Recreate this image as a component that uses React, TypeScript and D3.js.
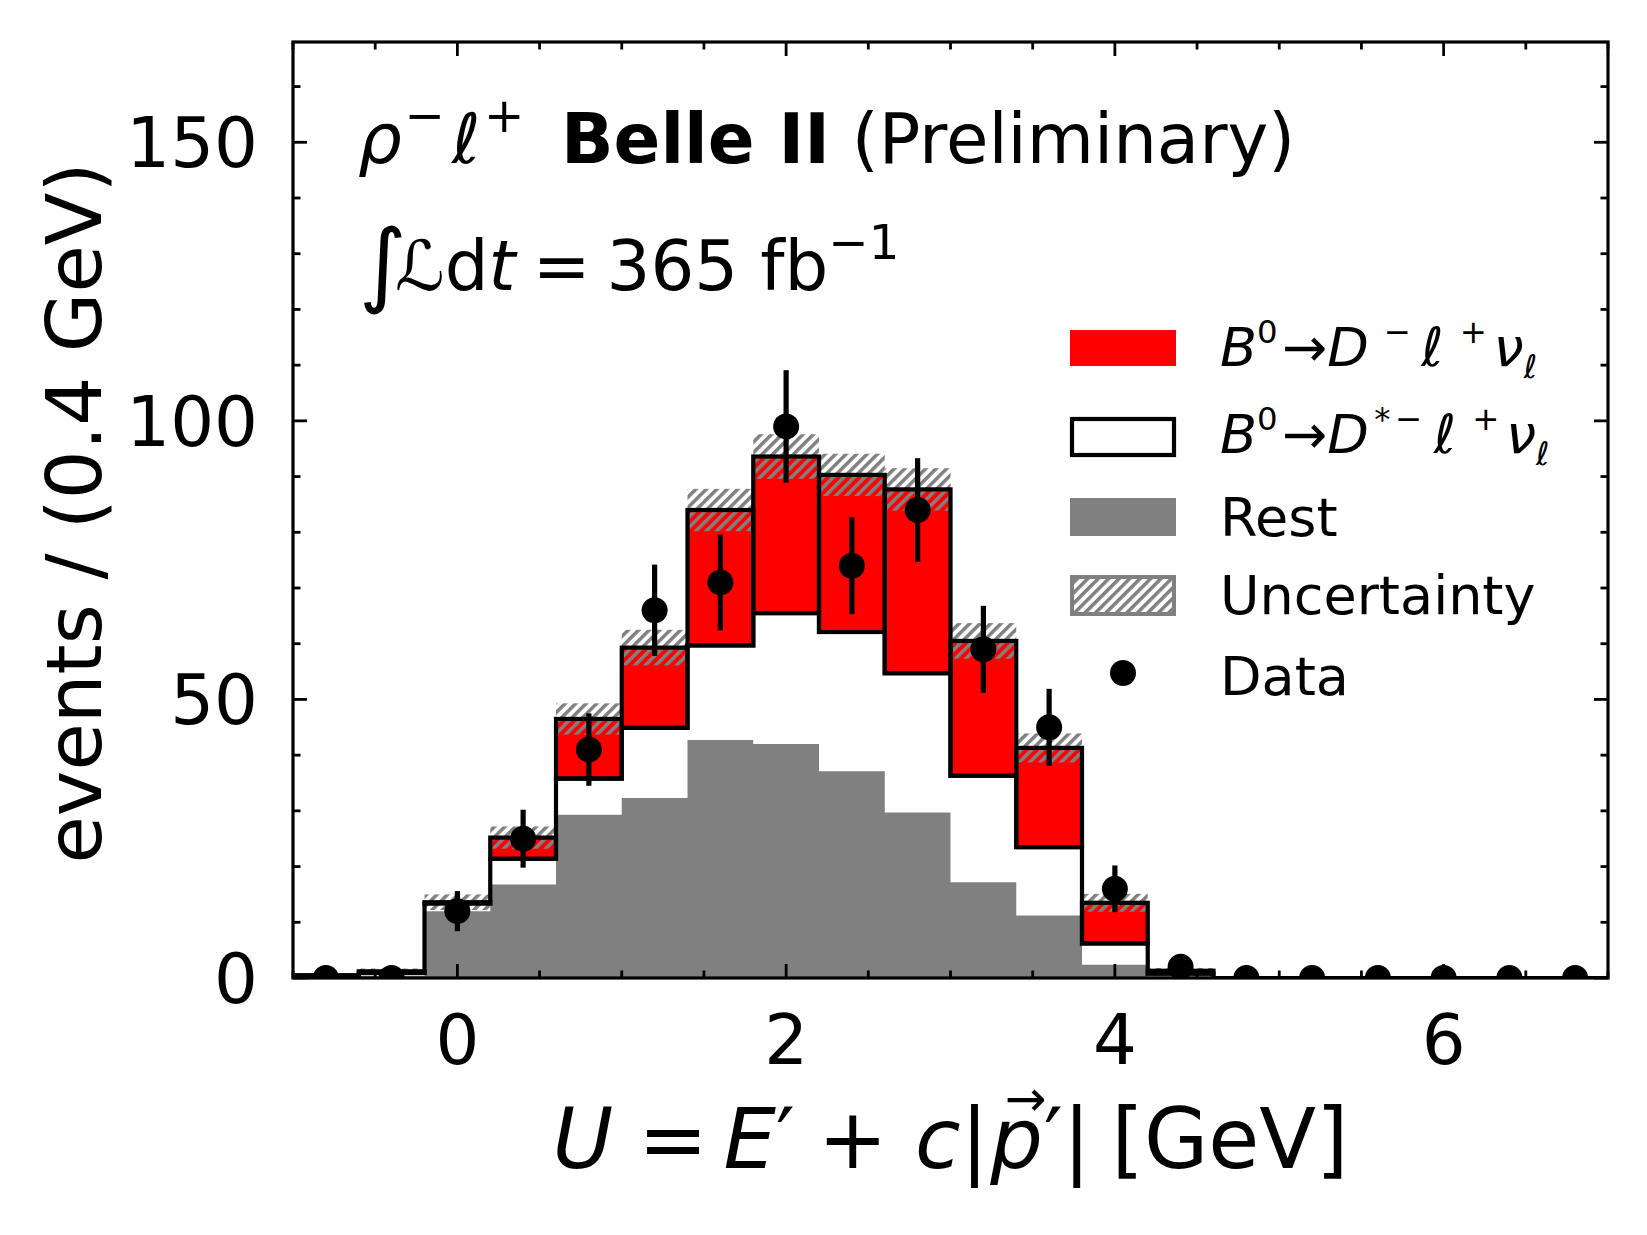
import * as d3 from 'd3';

// U distribution, rho- l+ channel, bins of 0.4 GeV
const binCenters = [-0.8, -0.4, 0.0, 0.4, 0.8, 1.2, 1.6, 2.0, 2.4, 2.8, 3.2, 3.6, 4.0, 4.4, 4.8, 5.2, 5.6, 6.0, 6.4, 6.8];
const binWidth = 0.4;

const restYield = [0.2, 0.4, 12.0, 16.8, 29.3, 32.3, 42.7, 42.0, 37.1, 29.7, 17.2, 11.2, 2.4, 0.3, 0, 0, 0, 0, 0, 0];
const dStarYield = [0.2, 0.5, 1.4, 4.6, 6.5, 12.6, 17.0, 23.5, 25.0, 25.0, 19.1, 12.3, 3.8, 0.5, 0, 0, 0, 0, 0, 0];
const dYield = [0.1, 0.3, 0.2, 3.8, 10.7, 14.4, 24.3, 28.1, 28.2, 33.0, 24.2, 17.8, 7.3, 0.5, 0, 0, 0, 0, 0, 0];
const mcUnc = [0.3, 0.5, 1.4, 2.0, 2.8, 3.2, 3.8, 4.0, 3.8, 3.8, 3.2, 2.6, 1.6, 0.5, 0, 0, 0, 0, 0, 0];

const dataCounts = [0, 0, 12, 25, 41, 66, 71, 99, 74, 84, 59, 45, 16, 2, 0, 0, 0, 0, 0, 0];
const dataErr = [0, 0, 3.6, 5.2, 6.5, 8.2, 8.6, 10.1, 8.7, 9.3, 7.8, 6.9, 4.2, 1.5, 0, 0, 0, 0, 0, 0];

const xTicks = [0, 2, 4, 6];
const yTicks = [0, 50, 100, 150];

const FONT = 'DejaVu Sans';

type Part = { t: string; it?: boolean; bold?: boolean; up?: number; scale?: number; dx?: number };

// small mathtext-like helper: tspans with super/subscript shifts
function Tex({ x, y, size, parts, anchor = 'start' }: {
  x: number; y: number; size: number; parts: Part[]; anchor?: string;
}) {
  let cur = 0;
  return (
    <text x={x} y={y} fontSize={size} textAnchor={anchor} fontFamily={FONT} fill="#000">
      {parts.map((p, i) => {
        const target = -(p.up ?? 0) * size;
        const dy = target - cur;
        cur = target;
        return (
          <tspan
            key={i}
            dy={dy}
            dx={(p.dx ?? 0) * size}
            fontStyle={p.it ? 'italic' : 'normal'}
            fontWeight={p.bold ? 'bold' : 'normal'}
            fontSize={size * (p.scale ?? 1)}
          >
            {p.t}
          </tspan>
        );
      })}
    </text>
  );
}

const SUP = 0.6;

const dLabel: Part[] = [
  { t: 'B', it: true },
  { t: '0', scale: SUP, up: 0.42 },
  { t: '→', up: 0, dx: 0.08 },
  { t: 'D', it: true },
  { t: '−', scale: SUP, up: 0.42, dx: 0.27 },
  { t: 'ℓ', it: true, up: 0, dx: 0.2 },
  { t: '+', scale: SUP, up: 0.42, dx: 0.3 },
  { t: 'ν', it: true, up: 0, dx: 0.12 },
  { t: 'ℓ', it: true, scale: SUP, up: -0.22 },
];

const dStarLabel: Part[] = [
  { t: 'B', it: true },
  { t: '0', scale: SUP, up: 0.42 },
  { t: '→', up: 0, dx: 0.08 },
  { t: 'D', it: true },
  { t: '*', scale: SUP, up: 0.42, dx: 0.1 },
  { t: '−', scale: SUP, up: 0.42, dx: 0.08 },
  { t: 'ℓ', it: true, up: 0, dx: 0.22 },
  { t: '+', scale: SUP, up: 0.42, dx: 0.3 },
  { t: 'ν', it: true, up: 0, dx: 0.12 },
  { t: 'ℓ', it: true, scale: SUP, up: -0.22 },
];

export default function App() {
  const W = 1647;
  const H = 1235;
  const x = d3.scaleLinear().domain([-1, 7]).range([293, 1608]);
  const y = d3.scaleLinear().domain([0, 168]).range([978, 42]);
  const [x0, x1] = x.range();
  const [yb, yt] = y.range();

  const lo = (c: number) => x(c - binWidth / 2);
  const hi = (c: number) => x(c + binWidth / 2);
  const dStarTop = binCenters.map((_, i) => restYield[i] + dStarYield[i]);
  const total = binCenters.map((_, i) => dStarTop[i] + dYield[i]);

  // rest as one stepped area, D* top as a stepped outline
  let restPath = `M${x0},${y(0)}`;
  let dStarPath = `M${x0},${y(0)}`;
  binCenters.forEach((c, i) => {
    restPath += `L${lo(c)},${y(restYield[i])}L${hi(c)},${y(restYield[i])}`;
    dStarPath += `L${lo(c)},${y(dStarTop[i])}L${hi(c)},${y(dStarTop[i])}`;
  });
  restPath += `L${x1},${y(0)}Z`;
  dStarPath += `L${x1},${y(0)}`;

  const xMinor = d3.range(-1, 7.001, 0.5).filter((v) => !xTicks.includes(v));
  const yMinor = d3.range(0, 168, 10).filter((v) => !yTicks.includes(v));
  const majorLen = 14;
  const minorLen = 7.5;
  const tickW = 2.8;
  const lw = 4.2;

  const legendX = 1072;
  const legendW = 102;
  const legendTextX = 1220;
  const legSize = 54;

  return (
    <svg width={W} height={H} style={{ position: 'absolute', left: 0, top: 0, background: '#fff' }}>
      <defs>
        <clipPath id="plot-clip">
          <rect x={x0} y={yt} width={x1 - x0} height={yb - yt} />
        </clipPath>
        <pattern id="hatch" patternUnits="userSpaceOnUse" width={7.4} height={7.4} patternTransform="rotate(45)">
          <rect x={0} y={0} width={3.5} height={7.4} fill="#808080" />
        </pattern>
      </defs>
      <rect x={0} y={0} width={W} height={H} fill="#fff" />

      <g clipPath="url(#plot-clip)">
        <path d={restPath} fill="#808080" />
        {binCenters.map((c, i) =>
          dYield[i] > 0 ? (
            <rect key={`r${i}`} x={lo(c)} y={y(total[i])} width={hi(c) - lo(c)} height={y(dStarTop[i]) - y(total[i])} fill="#ff0000" />
          ) : null
        )}
        {binCenters.map((c, i) =>
          mcUnc[i] > 0 ? (
            <rect key={`u${i}`} x={lo(c)} y={y(total[i] + mcUnc[i])} width={hi(c) - lo(c)} height={y(total[i] - mcUnc[i]) - y(total[i] + mcUnc[i])} fill="url(#hatch)" />
          ) : null
        )}
        <path d={dStarPath} fill="none" stroke="#000" strokeWidth={lw} strokeLinejoin="miter" />
        {binCenters.map((c, i) =>
          dYield[i] > 0 ? (
            <rect key={`o${i}`} x={lo(c)} y={y(total[i])} width={hi(c) - lo(c)} height={y(dStarTop[i]) - y(total[i])} fill="none" stroke="#000" strokeWidth={lw} />
          ) : null
        )}
        {binCenters.map((c, i) =>
          dataErr[i] > 0 ? (
            <line key={`e${i}`} x1={x(c)} x2={x(c)} y1={y(dataCounts[i] - dataErr[i])} y2={y(dataCounts[i] + dataErr[i])} stroke="#000" strokeWidth={5.2} />
          ) : null
        )}
        {binCenters.map((c, i) => (
          <circle key={`d${i}`} cx={x(c)} cy={y(dataCounts[i])} r={13} fill="#000" />
        ))}
      </g>

      {/* ticks, pointing inward on all four sides */}
      <g stroke="#000" strokeWidth={tickW}>
        {xTicks.map((v) => (
          <g key={`xt${v}`}>
            <line x1={x(v)} x2={x(v)} y1={yb} y2={yb - majorLen} />
            <line x1={x(v)} x2={x(v)} y1={yt} y2={yt + majorLen} />
          </g>
        ))}
        {xMinor.map((v) => (
          <g key={`xm${v}`}>
            <line x1={x(v)} x2={x(v)} y1={yb} y2={yb - minorLen} />
            <line x1={x(v)} x2={x(v)} y1={yt} y2={yt + minorLen} />
          </g>
        ))}
        {yTicks.map((v) => (
          <g key={`yt${v}`}>
            <line x1={x0} x2={x0 + majorLen} y1={y(v)} y2={y(v)} />
            <line x1={x1} x2={x1 - majorLen} y1={y(v)} y2={y(v)} />
          </g>
        ))}
        {yMinor.map((v) => (
          <g key={`ym${v}`}>
            <line x1={x0} x2={x0 + minorLen} y1={y(v)} y2={y(v)} />
            <line x1={x1} x2={x1 - minorLen} y1={y(v)} y2={y(v)} />
          </g>
        ))}
      </g>
      <rect x={x0} y={yt} width={x1 - x0} height={yb - yt} fill="none" stroke="#000" strokeWidth={3.2} />

      {/* tick labels */}
      <g fontFamily={FONT} fontSize={69} fill="#000">
        {xTicks.map((v) => (
          <text key={`xl${v}`} x={x(v)} y={1064} textAnchor="middle">{v}</text>
        ))}
        {yTicks.map((v) => (
          <text key={`yl${v}`} x={258} y={y(v)} dy="0.36em" textAnchor="end">{v}</text>
        ))}
      </g>

      {/* axis labels */}
      <text x={101} y={513} transform="rotate(-90 101 513)" textAnchor="middle" fontFamily={FONT} fontSize={77}>
        events / (0.4 GeV)
      </text>
      <Tex
        x={(x0 + x1) / 2}
        y={1168}
        size={83}
        anchor="middle"
        parts={[
          { t: 'U', it: true },
          { t: '=', dx: 0.3 },
          { t: 'E', it: true, dx: 0.19 },
          { t: '′' },
          { t: '+', dx: 0.28 },
          { t: 'c', it: true, dx: 0.33 },
          { t: '|' },
          { t: 'p', it: true, dx: 0.02 },
          { t: '→', scale: 0.6, up: 0.63, dx: -0.46 },
          { t: '′', up: 0, dx: -0.03 },
          { t: '|' },
          { t: '[GeV]', dx: 0.25 },
        ]}
      />

      {/* annotations */}
      <Tex
        x={358}
        y={163}
        size={69}
        parts={[
          { t: 'ρ', it: true },
          { t: '−', scale: 0.7, up: 0.45, dx: 0.04 },
          { t: 'ℓ', it: true, up: 0, dx: 0.1 },
          { t: '+', scale: 0.7, up: 0.45, dx: 0.05 },
        ]}
      />
      <Tex
        x={561}
        y={163}
        size={69}
        parts={[
          { t: 'Belle II', bold: true },
          { t: ' (Preliminary)' },
        ]}
      />
      <text x={359} y={295} fontFamily={FONT} fontSize={92}>∫</text>
      <Tex
        x={395}
        y={290}
        size={69}
        parts={[
          { t: 'ℒ' },
          { t: 'd' },
          { t: 't', it: true },
          { t: '=', dx: 0.25 },
          { t: '365', dx: 0.23 },
          { t: ' fb' },
          { t: '−1', scale: 0.7, up: 0.45 },
        ]}
      />

      {/* legend */}
      <rect x={legendX - 2} y={330} width={legendW + 4} height={36} fill="#ff0000" />
      <Tex x={legendTextX} y={366} size={legSize} parts={dLabel} />

      <rect x={legendX} y={419} width={legendW} height={36} fill="#fff" stroke="#000" strokeWidth={lw} />
      <Tex x={legendTextX} y={453} size={legSize} parts={dStarLabel} />

      <rect x={legendX - 2} y={498} width={legendW + 4} height={38} fill="#808080" />
      <text x={legendTextX} y={536} fontFamily={FONT} fontSize={legSize}>Rest</text>

      <rect x={legendX} y={577} width={legendW} height={37} fill="#fff" />
      <rect x={legendX} y={577} width={legendW} height={37} fill="url(#hatch)" stroke="#808080" strokeWidth={4} />
      <text x={legendTextX} y={614} fontFamily={FONT} fontSize={legSize}>Uncertainty</text>

      <circle cx={legendX + legendW / 2} cy={673} r={13} fill="#000" />
      <text x={legendTextX} y={695} fontFamily={FONT} fontSize={legSize}>Data</text>
    </svg>
  );
}
